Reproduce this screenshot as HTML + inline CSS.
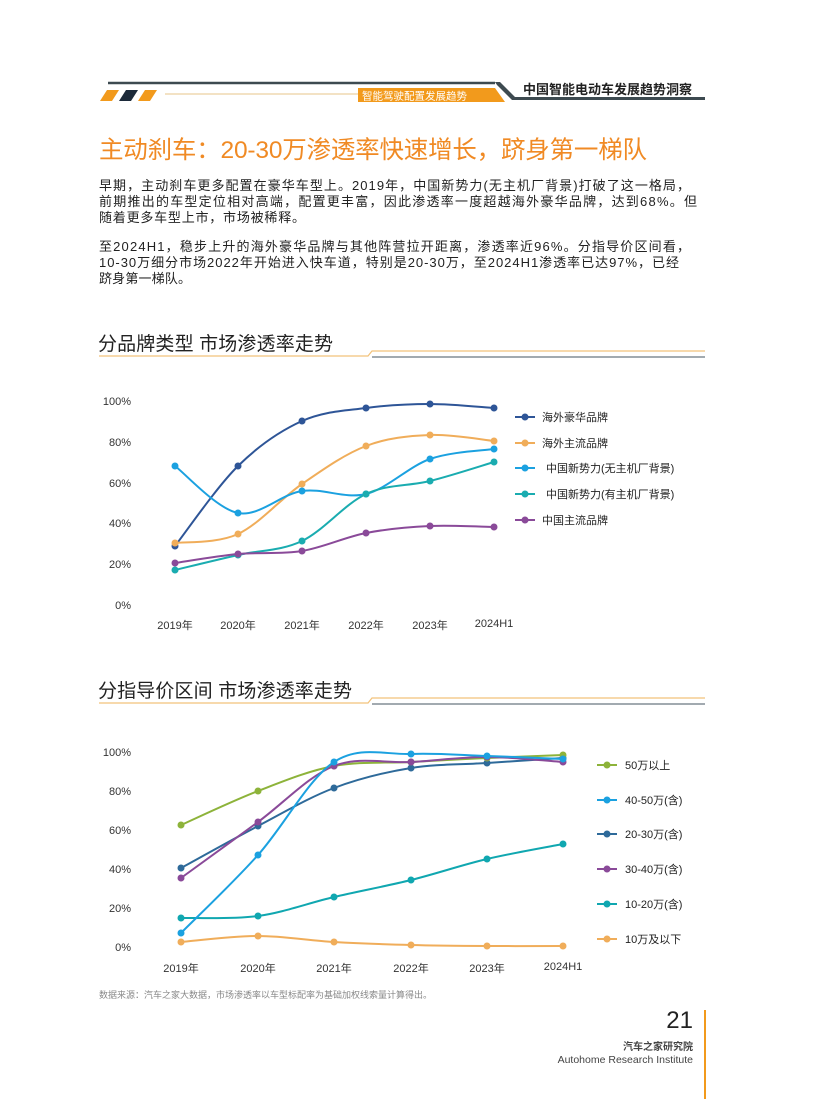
<!DOCTYPE html>
<html><head><meta charset="utf-8">
<style>
body{margin:0;background:#fff;}
svg{display:block;}
text{font-family:"Liberation Sans","Noto Sans CJK SC",sans-serif;}
</style></head>
<body>
<svg id="s" width="816" height="1099" viewBox="0 0 816 1099" xmlns="http://www.w3.org/2000/svg">
<!-- header -->
<line x1="108" y1="83" x2="495" y2="83" stroke="#3d4a50" stroke-width="2.5"/>
<polygon points="495,82 500,82 515,97 705,97 705,100 512,100 497,85" fill="#3d4a50"/>
<polygon points="100,101 107,90 119,90 112,101" fill="#f29a1c"/>
<polygon points="119,101 126,90 138,90 131,101" fill="#1c2a3a"/>
<polygon points="138,101 145,90 157,90 150,101" fill="#f29a1c"/>
<line x1="165" y1="94" x2="360" y2="94" stroke="#e7c48a" stroke-width="1"/>
<polygon points="358,88 495,88 505,102 358,102" fill="#f29a1c"/>
<text x="362" y="99.5" font-size="10.5" fill="#fff">智能驾驶配置发展趋势</text>
<text x="523" y="94" font-size="13" font-weight="bold" fill="#222">中国智能电动车发展趋势洞察</text>
<!-- title -->
<text x="99" y="158" font-size="24.5" fill="#f08a24" textLength="548" lengthAdjust="spacing">主动刹车：20-30万渗透率快速增长，跻身第一梯队</text>
<g font-size="13" fill="#222">
<text x="99" y="190" textLength="591" lengthAdjust="spacing">早期，主动刹车更多配置在豪华车型上。2019年，中国新势力(无主机厂背景)打破了这一格局，</text>
<text x="99" y="206" textLength="598" lengthAdjust="spacing">前期推出的车型定位相对高端，配置更丰富，因此渗透率一度超越海外豪华品牌，达到68%。但</text>
<text x="99" y="222" textLength="206" lengthAdjust="spacing">随着更多车型上市，市场被稀释。</text>
<text x="99" y="251" textLength="591" lengthAdjust="spacing">至2024H1，稳步上升的海外豪华品牌与其他阵营拉开距离，渗透率近96%。分指导价区间看，</text>
<text x="99" y="267" textLength="580" lengthAdjust="spacing">10-30万细分市场2022年开始进入快车道，特别是20-30万，至2024H1渗透率已达97%，已经</text>
<text x="99" y="283" textLength="92" lengthAdjust="spacing">跻身第一梯队。</text>
</g>
<!-- section 1 -->
<text x="98" y="350" font-size="19" fill="#222" textLength="235" lengthAdjust="spacing">分品牌类型  市场渗透率走势</text>
<polyline points="99,356 368,356 372,351 705,351" fill="none" stroke="#f2c27a" stroke-width="1.2"/>
<line x1="372" y1="357" x2="705" y2="357" stroke="#6b7880" stroke-width="1.2"/>
<g font-size="11" fill="#333" text-anchor="end">
<text x="131" y="405">100%</text><text x="131" y="446">80%</text><text x="131" y="487">60%</text>
<text x="131" y="527">40%</text><text x="131" y="568">20%</text><text x="131" y="609">0%</text>
</g>
<g font-size="11" fill="#333" text-anchor="middle">
<text x="175" y="629">2019年</text><text x="238" y="629">2020年</text><text x="302" y="629">2021年</text>
<text x="366" y="629">2022年</text><text x="430" y="629">2023年</text><text x="494" y="627">2024H1</text>
</g>
<g id="c1"></g>
<g font-size="11" fill="#222">
<text x="542" y="421">海外豪华品牌</text><text x="542" y="447">海外主流品牌</text>
<text x="546" y="472">中国新势力(无主机厂背景)</text><text x="546" y="498">中国新势力(有主机厂背景)</text>
<text x="542" y="524">中国主流品牌</text>
</g>
<!-- section 2 -->
<text x="98" y="697" font-size="19" fill="#222" textLength="254" lengthAdjust="spacing">分指导价区间  市场渗透率走势</text>
<polyline points="99,703 368,703 372,698 705,698" fill="none" stroke="#f2c27a" stroke-width="1.2"/>
<line x1="372" y1="704" x2="705" y2="704" stroke="#6b7880" stroke-width="1.2"/>
<g font-size="11" fill="#333" text-anchor="end">
<text x="131" y="756">100%</text><text x="131" y="795">80%</text><text x="131" y="834">60%</text>
<text x="131" y="873">40%</text><text x="131" y="912">20%</text><text x="131" y="951">0%</text>
</g>
<g font-size="11" fill="#333" text-anchor="middle">
<text x="181" y="972">2019年</text><text x="258" y="972">2020年</text><text x="334" y="972">2021年</text>
<text x="411" y="972">2022年</text><text x="487" y="972">2023年</text><text x="563" y="970">2024H1</text>
</g>
<g id="c2"></g>
<g font-size="11" fill="#222">
<text x="625" y="769">50万以上</text><text x="625" y="804">40-50万(含)</text><text x="625" y="838">20-30万(含)</text>
<text x="625" y="873">30-40万(含)</text><text x="625" y="908">10-20万(含)</text><text x="625" y="943">10万及以下</text>
</g>
<!-- footer -->
<text x="99" y="998" font-size="9" fill="#888">数据来源：汽车之家大数据，市场渗透率以车型标配率为基础加权线索量计算得出。</text>
<text x="693" y="1028" font-size="24" fill="#222" text-anchor="end">21</text>
<text x="693" y="1050" font-size="10" font-weight="bold" fill="#444" text-anchor="end">汽车之家研究院</text>
<text x="693" y="1063" font-size="10.5" fill="#444" text-anchor="end">Autohome Research Institute</text>
<line x1="705" y1="1010" x2="705" y2="1099" stroke="#f29a1c" stroke-width="2"/>
</svg>
<script>
function path(p){var d="M"+p[0][0]+","+p[0][1];for(var i=0;i<p.length-1;i++){var p0=p[i-1]||p[i],p1=p[i],p2=p[i+1],p3=p[i+2]||p2;var c1x=p1[0]+(p2[0]-p0[0])/6,c1y=p1[1]+(p2[1]-p0[1])/6,c2x=p2[0]-(p3[0]-p1[0])/6,c2y=p2[1]-(p3[1]-p1[1])/6;d+=" C"+c1x+","+c1y+" "+c2x+","+c2y+" "+p2[0]+","+p2[1];}return d;}
var NS="http://www.w3.org/2000/svg";
function draw(gid,xs,series,legX,legYs){var g=document.getElementById(gid);series.forEach(function(s,k){var pts=s.y.map(function(y,i){return [xs[i],y];});var e=document.createElementNS(NS,"path");e.setAttribute("d",path(pts));e.setAttribute("fill","none");e.setAttribute("stroke",s.c);e.setAttribute("stroke-width","2");g.appendChild(e);pts.forEach(function(p){var c=document.createElementNS(NS,"circle");c.setAttribute("cx",p[0]);c.setAttribute("cy",p[1]);c.setAttribute("r","3.5");c.setAttribute("fill",s.c);g.appendChild(c);});var l=document.createElementNS(NS,"line");l.setAttribute("x1",legX);l.setAttribute("x2",legX+20);l.setAttribute("y1",legYs[k]);l.setAttribute("y2",legYs[k]);l.setAttribute("stroke",s.c);l.setAttribute("stroke-width","2");g.appendChild(l);var c=document.createElementNS(NS,"circle");c.setAttribute("cx",legX+10);c.setAttribute("cy",legYs[k]);c.setAttribute("r","3.5");c.setAttribute("fill",s.c);g.appendChild(c);});}
draw("c1",[175,238,302,366,430,494],[
{c:"#2e5597",y:[546,466,421,408,404,408]},
{c:"#f0ad5a",y:[543,534,484,446,435,441]},
{c:"#1ba1e0",y:[466,513,491,494,459,449]},
{c:"#1aacb0",y:[570,555,541,494,481,462]},
{c:"#8a4a99",y:[563,554,551,533,526,527]}],515,[417,443,468,494,520]);
draw("c2",[181,258,334,411,487,563],[
{c:"#10a7b0",y:[918,916,897,880,859,844]},
{c:"#f0ad5a",y:[942,936,942,945,946,946]},
{c:"#2e6a9a",y:[868,826,788,768,763,758]},
{c:"#8db33a",y:[825,791,766,762,758,755]},
{c:"#8a4a99",y:[878,822,766,762,757,762]},
{c:"#1ba1e0",y:[933,855,762,754,756,759]}],597,[904,939,834,765,869,800]);
</script>
</body></html>
